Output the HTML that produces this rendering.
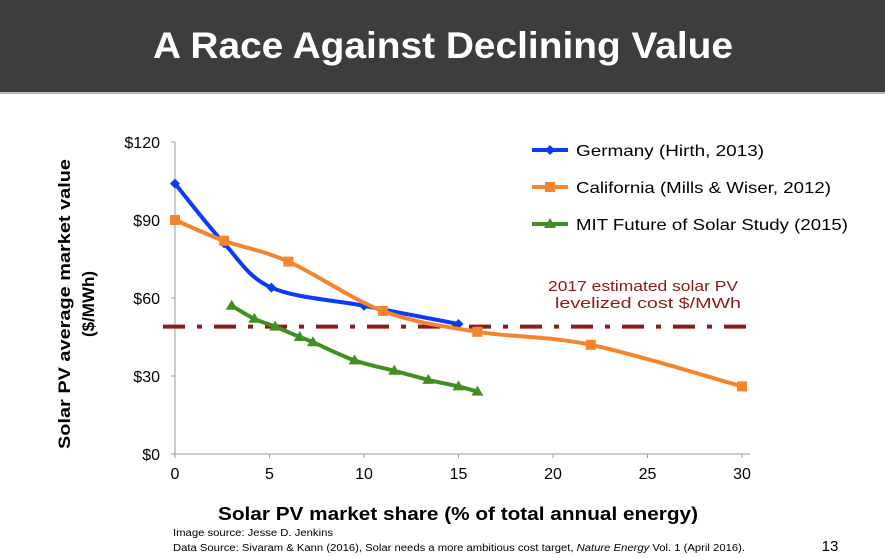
<!DOCTYPE html>
<html><head><meta charset="utf-8"><style>
body{margin:0;background:#fff;}
svg{display:block;font-family:"Liberation Sans",sans-serif;}
</style></head><body>
<svg width="885" height="558" viewBox="0 0 885 558">
<rect x="0" y="0" width="885" height="92" fill="#3d3d3d"/>
<rect x="0" y="92" width="885" height="2" fill="#bbb"/>
<text x="443" y="58" fill="#fff" font-size="37" font-weight="bold" text-anchor="middle" textLength="580" lengthAdjust="spacingAndGlyphs">A Race Against Declining Value</text>
<g id="chart"></g>
<text transform="translate(70,304) rotate(-90)" font-size="17" font-weight="bold" text-anchor="middle" fill="#000" textLength="290" lengthAdjust="spacingAndGlyphs">Solar PV average market value</text>
<text transform="translate(94,304) rotate(-90)" font-size="17" font-weight="bold" text-anchor="middle" fill="#000">($/MWh)</text>
<text x="458" y="520" font-size="18" font-weight="bold" text-anchor="middle" textLength="480" lengthAdjust="spacingAndGlyphs">Solar PV market share (% of total annual energy)</text>
<text x="643" y="291" font-size="15" fill="#8b1a1a" text-anchor="middle" textLength="190" lengthAdjust="spacingAndGlyphs">2017 estimated solar PV</text>
<text x="648" y="308" font-size="15" fill="#8b1a1a" text-anchor="middle" textLength="186" lengthAdjust="spacingAndGlyphs">levelized cost $/MWh</text>
<text x="173" y="536" font-size="10" textLength="160" lengthAdjust="spacingAndGlyphs">Image source: Jesse D. Jenkins</text>
<text x="173" y="551" font-size="10" textLength="572" lengthAdjust="spacingAndGlyphs">Data Source: Sivaram &amp; Kann (2016), Solar needs a more ambitious cost target, <tspan font-style="italic">Nature Energy</tspan> Vol. 1 (April 2016).</text>
<text x="830" y="551" font-size="15" text-anchor="middle">13</text>
</svg>
<script>
const xTicks=[0,5,10,15,20,25,30];
const yTicks=[0,30,60,90,120];
const yTickLabels=["$0","$30","$60","$90","$120"];
const germanyX=[0,2.6,5.1,10,15];
const germanyY=[104,81,64,57,50];
const californiaX=[0,2.6,6,11,16,22,30];
const californiaY=[90,82,74,55,47,42,26];
const mitX=[3,4.2,5.3,6.6,7.3,9.5,11.6,13.4,15,16];
const mitY=[57,52,49,45,43,36,32,28.5,26,24];
const costLevel=49;
const seriesNames=["Germany (Hirth, 2013)","California (Mills & Wiser, 2012)","MIT Future of Solar Study (2015)"];
const legendWidths=[188,255,272];

const NS="http://www.w3.org/2000/svg";
const g=document.getElementById('chart');
const X0=175,X1=742,Y0=454,Y1=142;
const sx=v=>X0+(v-0)/(30-0)*(X1-X0);
const sy=v=>Y0-(v-0)/(120-0)*(Y0-Y1);
function mk(t,a,p){const e=document.createElementNS(NS,t);for(const k in a)e.setAttribute(k,a[k]);(p||g).appendChild(e);return e;}

let ax=mk('line',{x1:X0,y1:Y1,x2:X0,y2:Y0,stroke:'#999','stroke-width':1});


let bx=mk('line',{x1:X0,y1:Y0,x2:X1+8,y2:Y0,stroke:'#999','stroke-width':1});


yTicks.forEach((v,i)=>{
  mk('line',{x1:X0-4,y1:sy(v),x2:X0,y2:sy(v),stroke:'#999'});
  const t=mk('text',{x:X0-15,y:sy(v)+6,'font-size':16,'text-anchor':'end'});
  t.textContent=yTickLabels[i];
  
  
});
xTicks.forEach(v=>{
  mk('line',{x1:sx(v),y1:Y0,x2:sx(v),y2:Y0+4,stroke:'#999'});
  const t=mk('text',{x:sx(v),y:Y0+25,'font-size':16,'text-anchor':'middle'});
  t.textContent=v;
  
  
});
const cl=mk('line',{x1:X0-12,y1:sy(costLevel),x2:X1+14,y2:sy(costLevel),stroke:'#8b1a1a','stroke-width':4,'stroke-dasharray':'22 12 5 12'});



function smooth(pts){
  let d=`M${pts[0][0]},${pts[0][1]}`;
  for(let i=0;i<pts.length-1;i++){
    const p0=pts[i-1]||pts[i],p1=pts[i],p2=pts[i+1],p3=pts[i+2]||p2;
    const c1=[p1[0]+(p2[0]-p0[0])/6,p1[1]+(p2[1]-p0[1])/6];
    const c2=[p2[0]-(p3[0]-p1[0])/6,p2[1]-(p3[1]-p1[1])/6];
    d+=`C${c1[0]},${c1[1]} ${c2[0]},${c2[1]} ${p2[0]},${p2[1]}`;
  }
  return d;
}
function marker(shape,x,y,c,name){
  let m;
  if(shape==='d') m=mk('polygon',{points:`${x},${y-5} ${x+5},${y} ${x},${y+5} ${x-5},${y}`,fill:c});
  else if(shape==='s') m=mk('rect',{x:x-5,y:y-5,width:10,height:10,fill:c});
  else m=mk('polygon',{points:`${x},${y-6} ${x+6},${y+4} ${x-6},${y+4}`,fill:c});
  
  
}
const series=[[germanyX,germanyY,'#0a3cf5','d','germany'],[californiaX,californiaY,'#f5842a','s','california'],[mitX,mitY,'#3f8f22','t','mit']];
series.forEach(([xs,ys,c,sh,nm],si)=>{
  const pts=xs.map((v,i)=>[sx(v),sy(ys[i])]);
  const p=mk('path',{d:smooth(pts),fill:'none',stroke:c,'stroke-width':4,'stroke-linejoin':'round'});
  
  
  pts.forEach(q=>marker(sh,q[0],q[1],c,nm+'-point'));
  const ly=150+si*37;
  const ll=mk('line',{x1:532,y1:ly,x2:568,y2:ly,stroke:c,'stroke-width':4});
  
  
  marker(sh,550,ly,c,'legend-marker');
  const t=mk('text',{x:576,y:ly+6,'font-size':16,textLength:legendWidths[si],lengthAdjust:'spacingAndGlyphs'});
  t.textContent=seriesNames[si];
  
  
});
</script>
</body></html>
